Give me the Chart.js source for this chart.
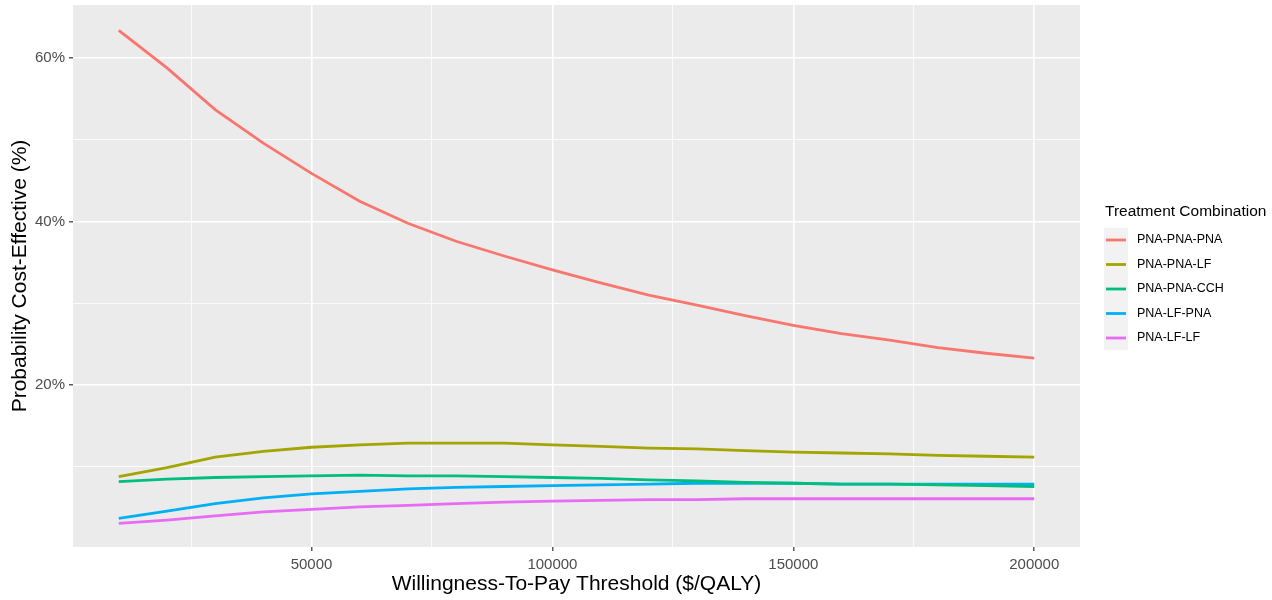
<!DOCTYPE html>
<html>
<head>
<meta charset="utf-8">
<script src="https://cdn.jsdelivr.net/npm/chart.js@4/dist/chart.umd.min.js"></script>
<style>
html,body{margin:0;padding:0;background:#fff;}
#wrap{width:1272px;height:600px;}
</style>
</head>
<body>
<div id="wrap"><canvas id="c" width="1272" height="600"></canvas></div>
<script>
const wtp = [10000,20000,30000,40000,50000,60000,70000,80000,90000,100000,110000,120000,130000,140000,150000,160000,170000,180000,190000,200000];
const seriesNames = ["PNA-PNA-PNA","PNA-PNA-LF","PNA-PNA-CCH","PNA-LF-PNA","PNA-LF-LF"];
const pnaPnaPna = [63.4,58.8,53.7,49.6,45.9,42.5,39.8,37.6,35.8,34.1,32.5,31.0,29.8,28.5,27.3,26.3,25.5,24.6,23.9,23.3];
const pnaPnaLf  = [8.8,9.9,11.2,11.9,12.4,12.7,12.9,12.9,12.9,12.7,12.5,12.3,12.2,12.0,11.8,11.7,11.6,11.4,11.3,11.2];
const pnaPnaCch = [8.2,8.5,8.7,8.8,8.9,9.0,8.9,8.9,8.8,8.7,8.6,8.4,8.3,8.1,8.0,7.9,7.9,7.8,7.7,7.6];
const pnaLfPna  = [3.7,4.6,5.5,6.2,6.7,7.0,7.3,7.5,7.6,7.7,7.8,7.9,8.0,8.0,8.0,7.9,7.9,7.9,7.9,7.9];
const pnaLfLf   = [3.1,3.5,4.0,4.5,4.8,5.1,5.3,5.5,5.7,5.8,5.9,6.0,6.0,6.1,6.1,6.1,6.1,6.1,6.1,6.1];
const xTicks = [25000,50000,75000,100000,125000,150000,175000,200000];
const yTicks = [10,20,30,40,50,60];
const colors = ["#F8766D","#A3A500","#00BF7D","#00B0F6","#E76BF3"];
const allSeries = [pnaPnaPna,pnaPnaLf,pnaPnaCch,pnaLfPna,pnaLfLf];

const FONT = "'Liberation Sans', Arial, sans-serif";

const datasets = allSeries.map((s,i)=>({
  label: seriesNames[i],
  data: wtp.map((x,j)=>({x:x,y:s[j]})),
  borderColor: colors[i],
  backgroundColor: colors[i],
  borderWidth: 2.8,
  pointRadius: 0,
  tension: 0,
  fill: false
}));

const bgPlugin = {
  id:'bg',
  beforeDraw(chart){
    const {ctx, chartArea:a} = chart;
    ctx.save();
    ctx.fillStyle = '#EBEBEB';
    ctx.fillRect(a.left, a.top, a.right-a.left, a.bottom-a.top);
    ctx.restore();
  }
};

const legendPlugin = {
  id:'gglegend',
  afterDraw(chart){
    const ctx = chart.ctx;
    ctx.save();
    ctx.fillStyle = '#000';
    ctx.font = '15.5px ' + FONT;
    ctx.textBaseline = 'middle';
    ctx.textAlign = 'left';
    ctx.fillText('Treatment Combination', 1105, 212);
    const y0 = 240, dy = 24.5;
    ctx.fillStyle = '#F2F2F2';
    ctx.fillRect(1104, y0 - dy/2, 24, dy*chart.data.datasets.length);
    chart.data.datasets.forEach((ds,i)=>{
      const y = y0 + i*dy;
      ctx.strokeStyle = ds.borderColor;
      ctx.lineWidth = 2.8;
      ctx.beginPath();
      ctx.moveTo(1106, y);
      ctx.lineTo(1126, y);
      ctx.stroke();
      ctx.fillStyle = '#000';
      ctx.font = '12.5px ' + FONT;
      ctx.fillText(ds.label, 1137, y);
    });
    ctx.restore();
  }
};

new Chart(document.getElementById('c'), {
  type:'line',
  data:{datasets:datasets},
  plugins:[bgPlugin, legendPlugin],
  options:{
    responsive:false,
    animation:false,
    devicePixelRatio:1,
    layout:{padding:{left:0,top:5,right:192,bottom:0}},
    plugins:{legend:{display:false}, tooltip:{enabled:false}},
    scales:{
      x:{
        type:'linear',
        min:500, max:209500,
        afterBuildTicks(scale){ scale.ticks = xTicks.map(v=>({value:v})); },
        afterFit(scale){ scale.height = 53; scale.paddingLeft = 0; scale.paddingRight = 0; },
        border:{display:false},
        grid:{
          color:'#FFFFFF',
          lineWidth:(c)=> (c.tick && c.tick.value % 50000 === 0) ? 1.6 : 0.8,
          tickColor:(c)=> (c.tick && c.tick.value % 50000 === 0) ? '#333333' : 'rgba(0,0,0,0)',
          tickLength:4,
          tickWidth:1.2
        },
        ticks:{
          autoSkip:false,
          maxRotation:0,
          padding:5,
          color:'#4D4D4D',
          font:{family:FONT,size:15},
          callback:(v)=> (v % 50000 === 0) ? String(v) : ''
        },
        title:{
          display:true,
          text:'Willingness-To-Pay Threshold ($/QALY)',
          color:'#000',
          font:{family:FONT,size:21},
          padding:{top:0,bottom:3}
        }
      },
      y:{
        type:'linear',
        min:0.2, max:66.5,
        afterBuildTicks(scale){ scale.ticks = yTicks.map(v=>({value:v})); },
        afterFit(scale){ scale.width = 73; scale.paddingTop = 0; scale.paddingBottom = 0; },
        border:{display:false},
        grid:{
          color:'#FFFFFF',
          lineWidth:(c)=> (c.tick && c.tick.value % 20 === 0) ? 1.6 : 0.8,
          tickColor:(c)=> (c.tick && c.tick.value % 20 === 0) ? '#333333' : 'rgba(0,0,0,0)',
          tickLength:4,
          tickWidth:1.2
        },
        ticks:{
          autoSkip:false,
          padding:4,
          color:'#4D4D4D',
          font:{family:FONT,size:15},
          callback:(v)=> (v % 20 === 0) ? v + '%' : ''
        },
        title:{
          display:true,
          text:'Probability Cost-Effective (%)',
          color:'#000',
          font:{family:FONT,size:21},
          padding:{top:8,bottom:0}
        }
      }
    }
  }
});
</script>
</body>
</html>
